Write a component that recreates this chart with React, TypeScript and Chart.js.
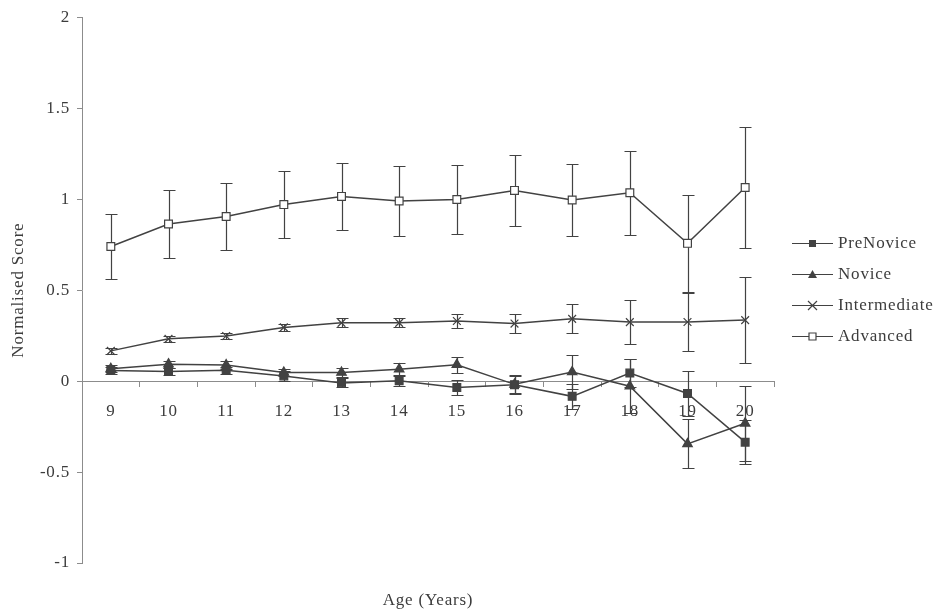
import React, { useEffect, useRef } from 'react';
import { Chart, registerables } from 'chart.js';

Chart.register(...registerables);

// Age groups (years)
const ages = ['9', '10', '11', '12', '13', '14', '15', '16', '17', '18', '19', '20'];

// Mean normalised scores per group
const preNovice = [0.058, 0.053, 0.06, 0.028, -0.01, 0.002, -0.035, -0.02, -0.084, 0.044, -0.068, -0.336];
const novice = [0.068, 0.093, 0.088, 0.047, 0.047, 0.065, 0.09, -0.018, 0.05, -0.028, -0.345, -0.232];
const intermediate = [0.166, 0.232, 0.248, 0.295, 0.32, 0.32, 0.33, 0.316, 0.342, 0.324, 0.325, 0.335];
const advanced = [0.74, 0.863, 0.905, 0.97, 1.015, 0.99, 0.998, 1.048, 0.995, 1.035, 0.757, 1.064];

// Error bar half-widths
const preNoviceErr = [0.02, 0.02, 0.02, 0.025, 0.025, 0.03, 0.04, 0.05, 0.07, 0.075, 0.125, 0.12];
const noviceErr = [0.02, 0.02, 0.02, 0.02, 0.025, 0.035, 0.045, 0.05, 0.095, 0.15, 0.135, 0.205];
const intermediateErr = [0.015, 0.018, 0.018, 0.02, 0.025, 0.025, 0.04, 0.05, 0.08, 0.12, 0.16, 0.235];
const advancedErr = [0.18, 0.185, 0.185, 0.185, 0.185, 0.19, 0.19, 0.195, 0.2, 0.23, 0.265, 0.335];

const seriesNames = ['PreNovice', 'Novice', 'Intermediate', 'Advanced'];
const errorSets = [preNoviceErr, noviceErr, intermediateErr, advancedErr];

const yMin = -1;
const yMax = 2;
const yStep = 0.5;

const INK = '#424242';
const AXIS = '#8c8c8c';
const TEXT = '#3c3c3c';
const FONT = "'Liberation Serif', 'Times New Roman', serif";
const FONT_SIZE = 17;
const SPACING = '0.8px';

type Marker = 'square' | 'triangle' | 'cross' | 'openSquare';
const markers: Marker[] = ['square', 'triangle', 'cross', 'openSquare'];

function drawMarker(ctx: CanvasRenderingContext2D, kind: Marker, x: number, y: number) {
  ctx.save();
  ctx.strokeStyle = INK;
  ctx.fillStyle = INK;
  ctx.lineWidth = 1.2;
  ctx.beginPath();
  if (kind === 'square') {
    ctx.rect(x - 3.5, y - 3.5, 7, 7);
    ctx.fill();
  } else if (kind === 'openSquare') {
    ctx.fillStyle = '#fff';
    ctx.rect(x - 3.5, y - 3.5, 7, 7);
    ctx.fill();
    ctx.stroke();
  } else if (kind === 'triangle') {
    ctx.moveTo(x, y - 4.5);
    ctx.lineTo(x + 4.5, y + 3.5);
    ctx.lineTo(x - 4.5, y + 3.5);
    ctx.closePath();
    ctx.fill();
  } else {
    ctx.moveTo(x - 4.5, y - 4.5);
    ctx.lineTo(x + 4.5, y + 4.5);
    ctx.moveTo(x + 4.5, y - 4.5);
    ctx.lineTo(x - 4.5, y + 4.5);
    ctx.stroke();
  }
  ctx.restore();
}

const textSpacing = {
  id: 'textSpacing',
  beforeDraw(chart: any) {
    (chart.ctx as any).letterSpacing = SPACING;
  },
};

const errorBars = {
  id: 'errorBars',
  beforeDatasetsDraw(chart: any) {
    const { ctx } = chart;
    const x = chart.scales.x;
    const y = chart.scales.y;
    ctx.save();
    ctx.strokeStyle = INK;
    ctx.lineWidth = 1.2;
    chart.data.datasets.forEach((ds: any, i: number) => {
      const errs = errorSets[i];
      ds.data.forEach((v: number, j: number) => {
        const px = Math.round(x.getPixelForValue(j)) + 0.5;
        const top = Math.round(y.getPixelForValue(v + errs[j])) + 0.5;
        const bot = Math.round(y.getPixelForValue(v - errs[j])) + 0.5;
        ctx.beginPath();
        ctx.moveTo(px, top);
        ctx.lineTo(px, bot);
        ctx.moveTo(px - 6, top);
        ctx.lineTo(px + 6, top);
        ctx.moveTo(px - 6, bot);
        ctx.lineTo(px + 6, bot);
        ctx.stroke();
      });
    });
    ctx.restore();
  },
};

const sideLegend = {
  id: 'sideLegend',
  afterDraw(chart: any) {
    const { ctx, chartArea } = chart;
    const x0 = chartArea.right + 18;
    const firstRow = 243;
    const rowGap = 31;
    ctx.save();
    (ctx as any).letterSpacing = SPACING;
    ctx.font = `${FONT_SIZE}px ${FONT}`;
    ctx.fillStyle = TEXT;
    ctx.textAlign = 'left';
    ctx.textBaseline = 'middle';
    chart.data.datasets.forEach((ds: any, i: number) => {
      const yy = Math.round(firstRow + i * rowGap) + 0.5;
      ctx.strokeStyle = INK;
      ctx.lineWidth = 1.2;
      ctx.beginPath();
      ctx.moveTo(x0, yy);
      ctx.lineTo(x0 + 41, yy);
      ctx.stroke();
      drawMarker(ctx, markers[i], x0 + 20.5, yy);
      ctx.fillText(ds.label, x0 + 46, yy);
    });
    ctx.restore();
  },
};

const xTitle = {
  id: 'xTitle',
  afterDraw(chart: any) {
    const { ctx, chartArea } = chart;
    ctx.save();
    (ctx as any).letterSpacing = SPACING;
    ctx.font = `${FONT_SIZE}px ${FONT}`;
    ctx.fillStyle = TEXT;
    ctx.textAlign = 'center';
    ctx.textBaseline = 'middle';
    ctx.fillText('Age (Years)', (chartArea.left + chartArea.right) / 2, 601);
    ctx.restore();
  },
};

function pointStyleFor(kind: Marker): any {
  if (kind === 'triangle') return 'triangle';
  if (kind === 'cross') return 'crossRot';
  return 'rect';
}

export default function App() {
  const canvasRef = useRef<HTMLCanvasElement | null>(null);

  useEffect(() => {
    const canvas = canvasRef.current;
    if (!canvas) return;
    const series = [preNovice, novice, intermediate, advanced];
    const chart = new Chart(canvas, {
      type: 'line',
      data: {
        labels: ages,
        datasets: series.map((values, i) => ({
          label: seriesNames[i],
          data: values,
          borderColor: INK,
          borderWidth: 1.5,
          pointStyle: pointStyleFor(markers[i]),
          pointRadius: 5.5,
          pointBorderWidth: 1.2,
          pointBackgroundColor: markers[i] === 'openSquare' ? '#ffffff' : INK,
          pointBorderColor: INK,
          tension: 0,
          fill: false,
        })),
      },
      options: {
        animation: false,
        responsive: true,
        maintainAspectRatio: false,
        layout: { padding: { left: 0, right: 165, top: 16, bottom: 51 } },
        plugins: {
          legend: { display: false },
          tooltip: { enabled: false },
        },
        scales: {
          x: {
            type: 'category',
            position: { y: 0 } as any,
            offset: true,
            grid: {
              display: true,
              drawOnChartArea: false,
              drawTicks: true,
              tickLength: 5,
              color: AXIS,
              offset: true,
            },
            border: { display: true, color: AXIS, width: 1 },
            ticks: {
              color: TEXT,
              padding: 15,
              maxRotation: 0,
              autoSkip: false,
              font: { family: FONT, size: FONT_SIZE },
            },
          },
          y: {
            type: 'linear',
            position: 'left',
            min: yMin,
            max: yMax,
            grid: {
              display: true,
              drawOnChartArea: false,
              drawTicks: true,
              tickLength: 5,
              color: AXIS,
            },
            border: { display: true, color: AXIS, width: 1 },
            ticks: {
              stepSize: yStep,
              color: TEXT,
              padding: 7,
              font: { family: FONT, size: FONT_SIZE },
              callback: (v: any) => String(Number(v)),
            },
            title: {
              display: true,
              text: 'Normalised Score',
              color: TEXT,
              font: { family: FONT, size: FONT_SIZE },
              padding: { top: 8, bottom: 0 },
            },
            afterFit(scale: any) {
              scale.width = 82;
            },
          },
        },
      },
      plugins: [textSpacing, errorBars, sideLegend, xTitle],
    });
    return () => chart.destroy();
  }, []);

  return (
    <div style={{ position: 'fixed', left: 0, top: 0, width: 939, height: 614, background: '#ffffff' }}>
      <canvas ref={canvasRef} />
    </div>
  );
}
